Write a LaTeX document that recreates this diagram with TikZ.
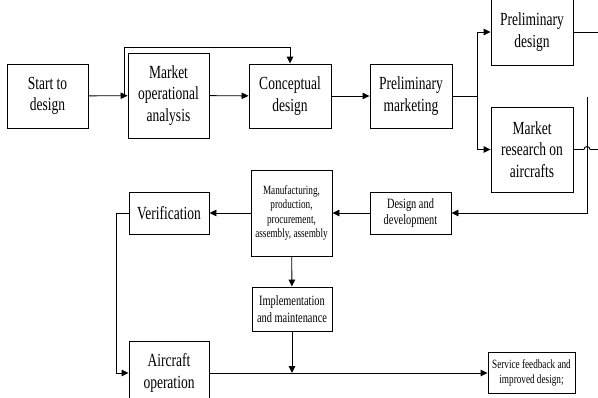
\documentclass[tikz,border=0pt]{standalone}
\usepackage{fontspec}
\setmainfont[FakeStretch=0.73]{Liberation Serif}
\usetikzlibrary{arrows.meta,calc}

\tikzset{
  box/.style={draw, line width=0.9pt, align=center, inner sep=0pt,
              minimum width=#1},
  big/.style={font=\fontsize{18.5}{21.5}\selectfont},
  mid/.style={font=\fontsize{14.2}{16.5}\selectfont},
  small/.style={font=\fontsize{12.6}{14.6}\selectfont},
  link/.style={line width=0.9pt},
  arr/.style={link, -{Triangle[length=7pt,width=6.5pt]}}
}

\begin{document}
\begin{tikzpicture}[x=1pt,y=-1pt]
\useasboundingbox (0,0) rectangle (598,397);
\fill[white] (0,0) rectangle (598,397);

% first row
\node[box=81, minimum height=64, big] (start)   at (47.5,96)  {Start to\\design};
\node[box=81, minimum height=85, big] (moa)     at (168.5,95.5) {Market\\operational\\analysis};
\node[box=82, minimum height=64, big] (concept) at (290,96)   {Conceptual\\design};
\node[box=82, minimum height=64, big] (prelmkt) at (411,96)   {Preliminary\\marketing};

% right column
\node[box=82, minimum height=66, big] (preldes) at (532,32)    {Preliminary\\design};
\node[box=82, minimum height=85, big] (mra)     at (532,149.5) {Market\\research on\\aircrafts};

% second row
\node[box=81, minimum height=42, mid]   (dd)  at (410.5,213) {Design and\\development};
\node[box=81, minimum height=86, small] (mfg) at (291.5,213) {Manufacturing,\\production,\\procurement,\\assembly, assembly};
\node[box=80, minimum height=42, big]   (ver) at (169,213)   {Verification};

% lower part
\node[box=80, minimum height=44, mid]   (impl) at (292,309)   {Implementation\\and maintenance};
\node[box=80, minimum height=64, big]   (acop) at (169,373)   {Aircraft\\operation};
\node[box=87, minimum height=41, small] (svc)  at (531.5,373) {Service feedback and\\improved design;};

% helper points
\coordinate (fb)    at (124,96);
\coordinate (br)    at (477,96);
\coordinate (pdout) at (600,32);
\coordinate (hop)   at (587,149.5);
\coordinate (mrout) at (600,149.5);
\coordinate (rtop)  at (587,97);
\coordinate (junc)  at (impl.south |- acop.east);

% first row connectors
\draw[arr] (start) -- (moa);
\draw[arr] (fb) -- ++(0,-49) -| (concept.north);
\draw[arr] (moa) -- (concept);
\draw[arr] (concept) -- (prelmkt);

% branch to the right column
\draw[link] (prelmkt) -- (br);
\draw[arr] (br) |- (preldes.west);
\draw[arr] (br) |- (mra.west);
\draw[link] (preldes.east) -- (pdout);
\draw[link] (mra.east) -- ($(hop)+(-3,0)$)
  arc[start angle=180, end angle=0, radius=3pt] -- (mrout);

% return path to the second row
\draw[arr] (rtop) |- (dd.east);
\draw[arr] (dd) -- (mfg);
\draw[arr] (mfg) -- (ver);
\draw[arr] (ver.west) -- ++(-12,0) |- (acop.west);

% lower connectors
\draw[arr] (mfg) -- (impl);
\draw[arr] (impl) -- (junc);
\draw[arr] (acop) -- (svc);
\end{tikzpicture}
\end{document}
